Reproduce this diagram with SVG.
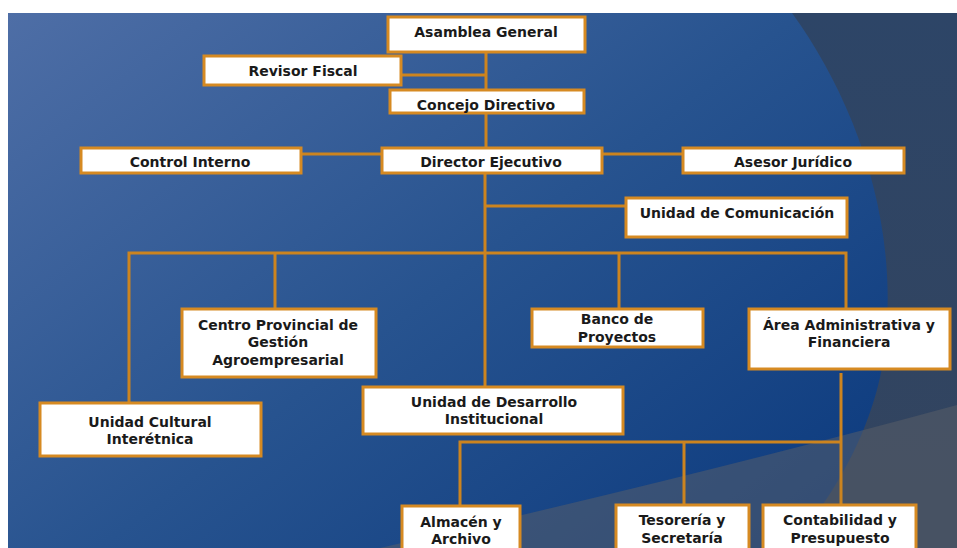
<svg xmlns="http://www.w3.org/2000/svg" width="957" height="548" viewBox="0 0 957 548">
<defs>
<linearGradient id="bg" x1="0" y1="0" x2="1" y2="0.8">
<stop offset="0" stop-color="#4e6ea6"/>
<stop offset="0.55" stop-color="#27538f"/>
<stop offset="1" stop-color="#0f3d80"/>
</linearGradient>
<linearGradient id="side" x1="0" y1="0" x2="0" y2="1">
<stop offset="0" stop-color="#2d4567"/>
<stop offset="1" stop-color="#33445e"/>
</linearGradient>
<style>
.box{fill:#ffffff;stroke:#d68a22;stroke-width:3}
.ln{fill:none;stroke:#cc841f;stroke-width:3}
text{font-family:"DejaVu Sans","Liberation Sans",sans-serif;font-weight:bold;font-size:14px;fill:#1a1a1a;text-anchor:middle}
</style>
</defs>
<rect x="0" y="0" width="957" height="548" fill="#ffffff"/>
<rect x="8" y="13" width="949" height="535" fill="url(#side)"/>
<path d="M8 13 L792 13 C855 100 905 230 882 368 C868 440 830 500 790 548 L8 548 Z" fill="url(#bg)"/>
<path d="M380 548 Q700 475 957 405 L957 548 Z" fill="#5c6068" fill-opacity="0.5"/>
<g id="connectors">
<path class="ln" d="M486 52 V148"/>
<path class="ln" d="M401 75 H486"/>
<path class="ln" d="M301 154 H382"/>
<path class="ln" d="M602 154 H683"/>
<path class="ln" d="M485 173 V387"/>
<path class="ln" d="M485 206 H626"/>
<path class="ln" d="M129 403 V253 H846 V309"/>
<path class="ln" d="M275 253 V309"/>
<path class="ln" d="M619 253 V309"/>
<path class="ln" d="M841 373 V505"/>
<path class="ln" d="M460 506 V442 H841"/>
<path class="ln" d="M684 442 V505"/>
</g>
<g id="asamblea"><rect class="box" x="388" y="17" width="197" height="35"/><text x="486" y="37">Asamblea General</text></g>
<g id="revisor"><rect class="box" x="204" y="56" width="197" height="29"/><text x="303" y="76">Revisor Fiscal</text></g>
<g id="concejo"><rect class="box" x="390" y="90" width="194" height="23"/><text x="486" y="110">Concejo Directivo</text></g>
<g id="control"><rect class="box" x="81" y="148" width="220" height="25"/><text x="190" y="167">Control Interno</text></g>
<g id="director"><rect class="box" x="382" y="148" width="220" height="25"/><text x="491" y="167">Director Ejecutivo</text></g>
<g id="asesor"><rect class="box" x="683" y="148" width="221" height="25"/><text x="793" y="167">Asesor Jurídico</text></g>
<g id="comunicacion"><rect class="box" x="626" y="198" width="221" height="39"/><text x="737" y="218">Unidad de Comunicación</text></g>
<g id="centro"><rect class="box" x="182" y="309" width="194" height="68"/><text x="278" y="330">Centro Provincial de</text><text x="278" y="347">Gestión</text><text x="278" y="365">Agroempresarial</text></g>
<g id="cultural"><rect class="box" x="40" y="403" width="221" height="53"/><text x="150" y="427">Unidad Cultural</text><text x="150" y="444">Interétnica</text></g>
<g id="desarrollo"><rect class="box" x="363" y="387" width="260" height="47"/><text x="494" y="407">Unidad de Desarrollo</text><text x="494" y="424">Institucional</text></g>
<g id="banco"><rect class="box" x="532" y="309" width="171" height="38"/><text x="617" y="324">Banco de</text><text x="617" y="342">Proyectos</text></g>
<g id="area"><rect class="box" x="749" y="309" width="201" height="60"/><text x="849" y="330">Área Administrativa y</text><text x="849" y="347">Financiera</text></g>
<g id="almacen"><rect class="box" x="402" y="506" width="118" height="60"/><text x="461" y="527">Almacén y</text><text x="461" y="544">Archivo</text></g>
<g id="tesoreria"><rect class="box" x="616" y="505" width="133" height="60"/><text x="682" y="525">Tesorería y</text><text x="682" y="543">Secretaría</text></g>
<g id="contabilidad"><rect class="box" x="763" y="505" width="153" height="60"/><text x="840" y="525">Contabilidad y</text><text x="840" y="543">Presupuesto</text></g>
</svg>
